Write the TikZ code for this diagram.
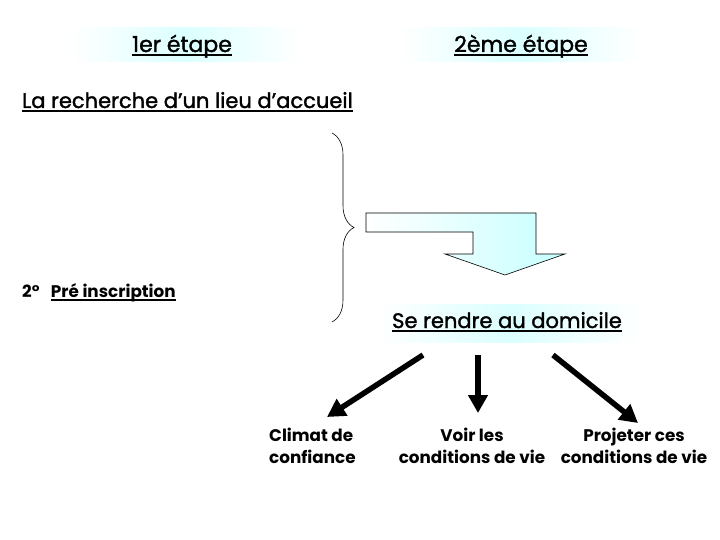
\documentclass[tikz,border=0pt]{standalone}
\usepackage{fontspec}
\setmainfont{Poppins}
\newfontfamily\grasfont{Poppins}[FakeBold=1.5]
\usetikzlibrary{arrows.meta,decorations.pathreplacing,positioning}

\begin{document}
\begin{tikzpicture}[x=1pt,y=-1pt,
    lueur/.style={left color=white,right color=white,middle color=cyan!14!white},
    titre/.style={inner sep=0pt,font=\grasfont\fontsize{22}{24}\selectfont},
    soustitre/.style={inner sep=0pt,font=\grasfont\fontsize{21}{24}\selectfont},
    souligne/.style={line width=1.8pt},
    fleche/.style={line width=5.5pt,-{Triangle[length=18pt,width=19pt]}},
    etiquette/.style={inner sep=0pt,align=center,font=\bfseries\fontsize{16.8}{22}\selectfont}]
  \useasboundingbox (0,0) rectangle (720,540);

  % bandeaux des etapes
  \shade[lueur] (70,28) rectangle (300,62);
  \shade[lueur] (400,28) rectangle (640,62);
  \shade[lueur] (378,304) rectangle (640,342);

  \node[titre,anchor=base] (etape_un) at (182,52) {1er étape};
  \draw[souligne] ([yshift=-3pt]etape_un.base west) -- ([yshift=-3pt]etape_un.base east);
  \node[titre,anchor=base] (etape_deux) at (521,52) {2ème étape};
  \draw[souligne] ([yshift=-3pt]etape_deux.base west) -- ([yshift=-3pt]etape_deux.base east);

  % premiere etape
  \node[soustitre,anchor=base west] (recherche) at (22,108) {La recherche d’un lieu d’accueil};
  \draw[souligne] ([yshift=-3pt]recherche.base west) -- ([yshift=-3pt]recherche.base east);

  \node[etiquette,anchor=base west] (pre_num) at (22,297) {2°};
  \node[etiquette,right=11pt of pre_num.base east,anchor=base west] (pre_inscr) {Pré inscription};
  \draw[line width=1.4pt] ([yshift=-3pt]pre_inscr.base west) -- ([yshift=-3pt]pre_inscr.base east);

  % accolade et fleche coudee
  \draw[decorate,decoration={brace,amplitude=22pt},line width=0.6pt] (332,133) -- (332,322);
  \shade[left color=white,right color=cyan!22!white,draw=black,line width=0.6pt]
    (366,213) -- (536,213) -- (536,254) -- (565,254) -- (505,275)
    -- (445,254) -- (473,254) -- (473,232) -- (366,232) -- cycle;

  % deuxieme etape
  \node[soustitre,anchor=base] (domicile) at (507,328) {Se rendre au domicile};
  \draw[souligne] ([yshift=-3pt]domicile.base west) -- ([yshift=-3pt]domicile.base east);

  \coordinate (dep_g) at (423,355);
  \coordinate (fin_g) at (327,417);
  \coordinate (dep_m) at (478,355);
  \coordinate (fin_m) at (478,413);
  \coordinate (dep_d) at (553,355);
  \coordinate (fin_d) at (638,423);
  \draw[fleche] (dep_g) -- (fin_g);
  \draw[fleche] (dep_m) -- (fin_m);
  \draw[fleche] (dep_d) -- (fin_d);

  \node[etiquette,align=left,anchor=north west] (climat) at (269,428) {Climat de\\confiance};
  \node[etiquette,anchor=north] (voir) at (472,428) {Voir les\\conditions de vie};
  \node[etiquette,anchor=north] (projeter) at (634,428) {Projeter ces\\conditions de vie};
\end{tikzpicture}
\end{document}
